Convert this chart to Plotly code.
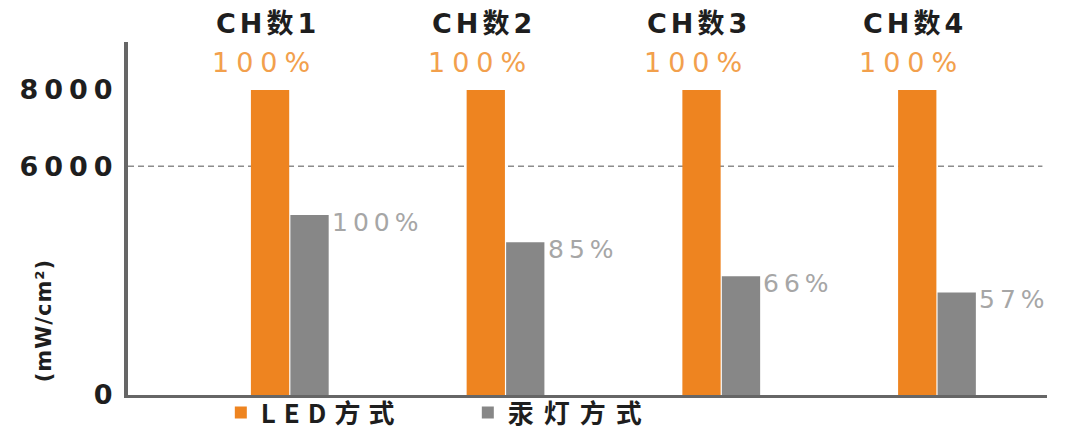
import plotly.graph_objects as go

# Irradiance comparison per channel count (mW/cm²)
channels = ["CH数1", "CH数2", "CH数3", "CH数4"]
led_values = [8000, 8000, 8000, 8000]
lamp_values = [4720, 4010, 3115, 2690]
led_labels = ["100%", "100%", "100%", "100%"]
lamp_labels = ["100%", "85%", "66%", "57%"]
y_tick_values = [0, 6000, 8000]
y_tick_text = ["0", "6000", "8000"]
series_names = ["LED方式", "汞灯方式"]

ORANGE = "#EE8420"
GRAY = "#878787"
ORANGE_TEXT = "#F2A04C"
GRAY_TEXT = "#A6A6A6"
INK = "#1E1E1E"
AXIS = "#666666"


def spaced(text, px):
    return f"<span style='letter-spacing:{px}px'>{text}</span>"


fig = go.Figure()
fig.add_bar(x=channels, y=led_values, name=spaced(series_names[0], 8),
            marker=dict(color=ORANGE, line=dict(width=0)))
fig.add_bar(x=channels, y=lamp_values, name=spaced(series_names[1], 10),
            marker=dict(color=GRAY, line=dict(width=0)))

annotations = []
for ch, v, lab in zip(channels, led_values, led_labels):
    annotations.append(dict(
        x=ch, y=v, xref="x", yref="y", xshift=-25, yshift=28,
        text=spaced(lab, 7), showarrow=False, xanchor="center", yanchor="middle",
        font=dict(family="DejaVu Sans", size=27, color=ORANGE_TEXT)))
    annotations.append(dict(
        x=ch, y=v, xref="x", yref="y", xshift=-22, yshift=67,
        text=spaced(f"<b>{ch}</b>", 4), showarrow=False, xanchor="center", yanchor="middle",
        font=dict(family="DejaVu Sans, Noto Sans CJK SC", size=27, color=INK)))
for ch, v, lab in zip(channels, lamp_values, lamp_labels):
    annotations.append(dict(
        x=ch, y=v, xref="x", yref="y", xshift=40, yshift=-7,
        text=spaced(lab, 5), showarrow=False, xanchor="left", yanchor="middle",
        font=dict(family="DejaVu Sans", size=25, color=GRAY_TEXT)))

# y-axis unit, rotated beside the lower part of the axis
annotations.append(dict(
    x=-0.092, y=0.21, xref="paper", yref="paper", textangle=-90,
    text=spaced("<b>(mW/cm²)</b>", 1), showarrow=False, xanchor="center", yanchor="middle",
    font=dict(family="DejaVu Sans", size=21, color=INK)))

fig.update_layout(
    width=1081, height=435,
    margin=dict(l=128, r=34, t=42, b=40, autoexpand=False),
    paper_bgcolor="white", plot_bgcolor="white",
    barmode="group", bargap=0.634, bargroupgap=0.03,
    showlegend=True,
    legend=dict(orientation="h", x=0.101, y=-0.05, xanchor="left", yanchor="middle",
                entrywidth=202, entrywidthmode="pixels",
                font=dict(family="Noto Sans CJK SC", size=26, color=INK, weight="bold"),
                itemsizing="constant", bgcolor="rgba(0,0,0,0)"),
    annotations=annotations,
    shapes=[dict(type="line", xref="paper", yref="y", x0=0, x1=0.995,
                 y0=6000, y1=6000, layer="below",
                 line=dict(color="#8C8C8C", width=1.5, dash="6px,4px"))],
)
fig.update_xaxes(range=[-0.75, 3.51], showticklabels=False, ticks="",
                 showgrid=False, zeroline=False,
                 showline=True, linecolor=AXIS, linewidth=3)
fig.update_yaxes(range=[0, 9260], tickvals=y_tick_values,
                 ticktext=[f"<b>{spaced(t, 6)}</b>" for t in y_tick_text],
                 tickfont=dict(family="DejaVu Sans", size=27, color=INK),
                 ticks="", showgrid=False, zeroline=False,
                 showline=True, linecolor=AXIS, linewidth=4)

fig.write_html("out.html")
